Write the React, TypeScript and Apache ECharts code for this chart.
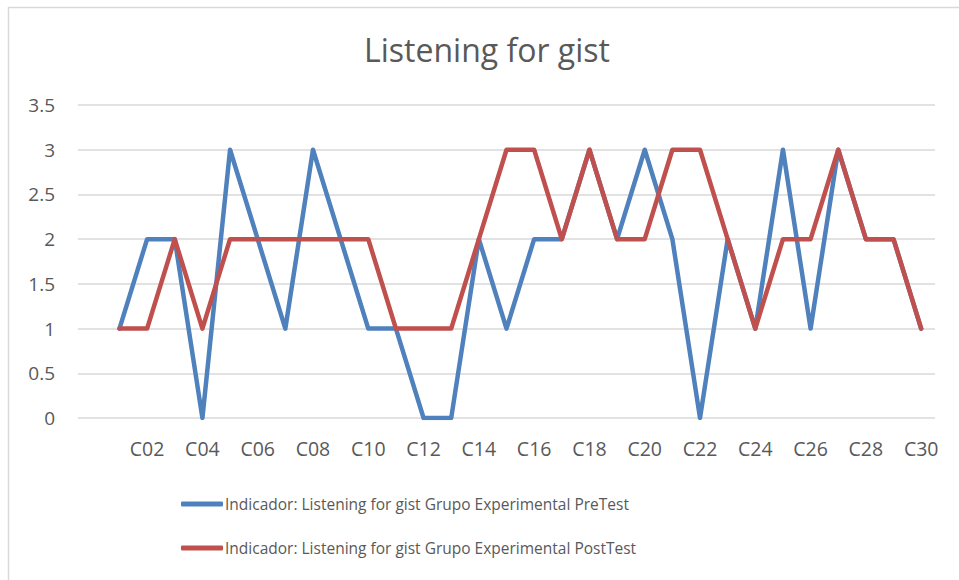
import React, { useEffect, useRef } from "react";
import * as echarts from "echarts";

const categories = ["", "C01", "C02", "C03", "C04", "C05", "C06", "C07", "C08", "C09", "C10",
  "C11", "C12", "C13", "C14", "C15", "C16", "C17", "C18", "C19", "C20",
  "C21", "C22", "C23", "C24", "C25", "C26", "C27", "C28", "C29", "C30"];

const preTest = [null, 1, 2, 2, 0, 3, 2, 1, 3, 2, 1, 1, 0, 0, 2, 1, 2, 2, 3, 2, 3, 2, 0, 2, 1, 3, 1, 3, 2, 2, 1];
const postTest = [null, 1, 1, 2, 1, 2, 2, 2, 2, 2, 2, 1, 1, 1, 2, 3, 3, 2, 3, 2, 2, 3, 3, 2, 1, 2, 2, 3, 2, 2, 1];

const seriesNames = [
  "Indicador: Listening for gist Grupo Experimental PreTest",
  "Indicador: Listening for gist Grupo Experimental PostTest",
];
const titleText = "Listening for gist";

const FONT = "'Open Sans', 'Noto Sans', sans-serif";
const TXT = "#595959";

export default function App() {
  const ref = useRef<HTMLDivElement>(null);
  useEffect(() => {
    const chart = echarts.init(ref.current!, null, { renderer: "svg" });
    chart.setOption({
      animation: false,
      backgroundColor: "#ffffff",
      title: {
        text: titleText,
        left: 482,
        textAlign: "center",
        top: 28,
        textStyle: { fontFamily: FONT, fontSize: 32, fontWeight: "normal", color: TXT },
      },
      graphic: [
        {
          type: "rect",
          shape: { x: 8.5, y: 7.5, width: 1200, height: 1200 },
          style: { fill: "none", stroke: "#d9d9d9", lineWidth: 1.5 },
          silent: true,
        },
      ],
      grid: { left: 78, right: 24, top: 105, bottom: 162, containLabel: false },
      xAxis: {
        type: "category",
        data: categories,
        boundaryGap: true,
        axisLine: { show: false },
        axisTick: { show: false },
        axisLabel: { interval: 1, margin: 20, fontFamily: FONT, fontSize: 19.5, color: TXT },
        splitLine: { show: false },
      },
      yAxis: {
        type: "value",
        min: 0,
        max: 3.5,
        interval: 0.5,
        axisLine: { show: false },
        axisTick: { show: false },
        axisLabel: { margin: 23, fontFamily: FONT, fontSize: 19, color: TXT },
        splitLine: { lineStyle: { color: "#d9d9d9", width: 1.5 } },
      },
      legend: {
        orient: "vertical",
        left: 176,
        top: 491,
        itemGap: 28,
        itemWidth: 42,
        itemHeight: 5,
        icon: "roundRect",
        textStyle: { fontFamily: FONT, fontSize: 15.5, color: TXT, padding: [0, 0, 0, -3] },
        data: seriesNames,
      },
      series: [
        {
          name: seriesNames[0],
          type: "line",
          data: preTest,
          symbol: "none",
          color: "#4F81BD",
          lineStyle: { width: 4.5, cap: "round", join: "round", color: "#4F81BD" },
        },
        {
          name: seriesNames[1],
          type: "line",
          data: postTest,
          symbol: "none",
          color: "#C0504D",
          lineStyle: { width: 4.5, cap: "round", join: "round", color: "#C0504D" },
        },
      ],
    });
    return () => chart.dispose();
  }, []);
  return (
    <div
      ref={ref}
      style={{ position: "absolute", left: 0, top: 0, width: 959, height: 580 }}
    />
  );
}
